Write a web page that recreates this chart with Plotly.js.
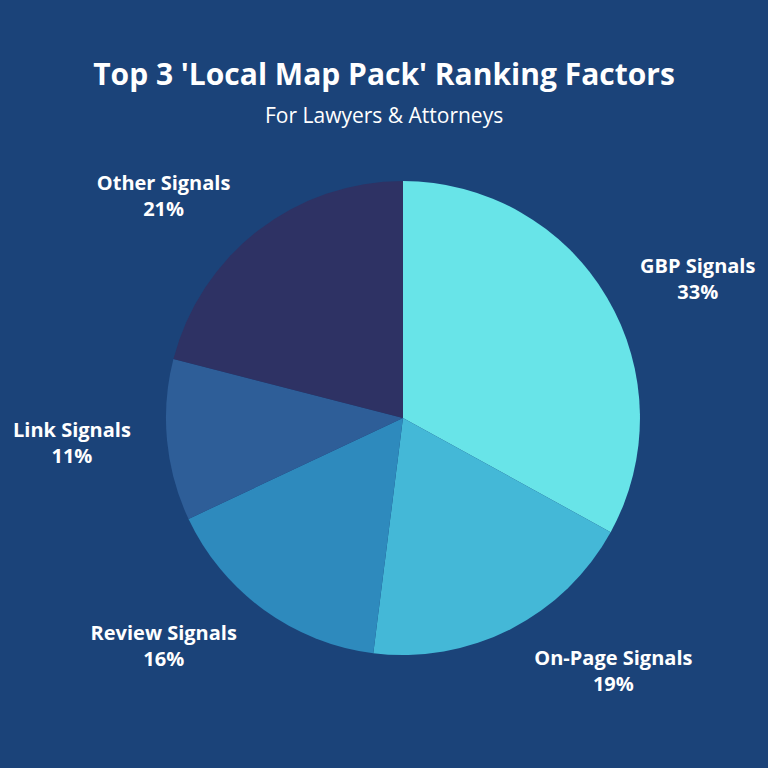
<!DOCTYPE html>
<html>
<head>
<meta charset="utf-8">
<script src="https://cdn.plot.ly/plotly-3.0.1.min.js"></script>
<style>html,body{margin:0;padding:0;background:#1b4379;}#chart{width:768px;height:768px;}</style>
</head>
<body>
<div id="chart"></div>
<script>
const categories = ["GBP Signals", "On-Page Signals", "Review Signals", "Link Signals", "Other Signals"];
const values = [33, 19, 16, 11, 21];
const colors = ["#68e4e8", "#44b8d7", "#2e8abd", "#2e5e98", "#2e3264"];

const FONT = "'Open Sans', Lato, sans-serif";

// visible pie (slices only)
const pie = {
  type: "pie",
  labels: categories,
  values: values,
  sort: false,
  direction: "clockwise",
  rotation: 0,
  marker: {colors: colors, line: {width: 0}},
  textinfo: "none",
  hoverinfo: "label+percent",
  showlegend: false,
  domain: {x: [0.2161, 0.8333], y: [0.1471, 0.7643]}
};

// label carrier: same data, slightly larger radius, transparent, so outside labels sit further out
const labelPie = {
  type: "pie",
  labels: categories,
  values: values,
  sort: false,
  direction: "clockwise",
  rotation: 0,
  marker: {colors: categories.map(() => "rgba(0,0,0,0)"), line: {width: 0}},
  textposition: "outside",
  texttemplate: "%{label}<br>%{percent:.0%}",
  hoverinfo: "skip",
  outsidetextfont: {color: "#ffffff", size: 20, family: FONT, weight: "bold"},
  showlegend: false,
  domain: {x: [0.1862, 0.8633], y: [0.1172, 0.7943]}
};

const layout = {
  width: 768, height: 768,
  paper_bgcolor: "#1b4379",
  plot_bgcolor: "#1b4379",
  margin: {l: 0, r: 0, t: 0, b: 0},
  showlegend: false,
  title: {
    text: "Top 3 'Local Map Pack' Ranking Factors",
    x: 0.5, xanchor: "center", y: 0.903, yanchor: "middle",
    font: {color: "#ffffff", size: 30, family: FONT, weight: "bold"}
  },
  annotations: [{
    text: "For Lawyers & Attorneys",
    xref: "paper", yref: "paper", x: 0.5, y: 0.85, xanchor: "center", yanchor: "middle",
    showarrow: false,
    font: {color: "#ffffff", size: 21, family: FONT}
  }]
};

Plotly.newPlot("chart", [labelPie, pie], layout, {displayModeBar: false, staticPlot: true});
</script>
</body>
</html>
